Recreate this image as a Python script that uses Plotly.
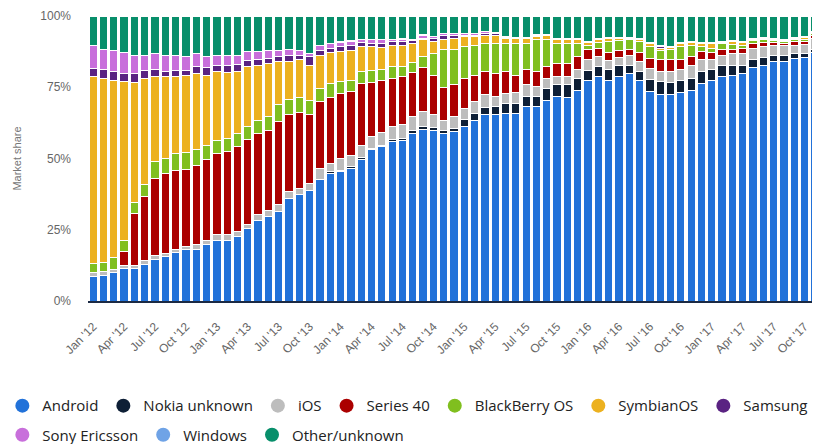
import plotly.graph_objects as go
import pandas as pd

months = [d.strftime("%b '%y") for d in pd.date_range("2012-01-01", periods=71, freq="MS")]
tick_labels = months[::3]
y_ticks = [0, 25, 50, 75, 100]
y_tick_text = ["0%", "25%", "50%", "75%", "100%"]

android = [8.5, 9.1, 10.1, 11.5, 11.5, 12.9, 14.6, 15.6, 17.1, 17.9, 18.2, 19.9,
           21.4, 21.4, 22.6, 25.5, 28.1, 29.6, 31.3, 36.0, 37.2, 38.9, 42.7, 44.8,
           45.4, 46.5, 49.7, 53.0, 54.2, 55.9, 56.3, 58.8, 60.2, 59.8, 58.6, 59.4,
           61.4, 63.5, 65.6, 65.3, 65.8, 65.8, 68.2, 68.4, 70.5, 71.9, 71.5, 74.0,
           77.2, 78.7, 77.5, 78.9, 79.9, 77.2, 73.5, 72.3, 72.3, 73.1, 74.0, 76.4,
           77.3, 78.7, 79.3, 79.9, 82.0, 82.8, 84.0, 84.0, 85.1, 85.5, 87.1]
nokia_unknown = [0, 0, 0, 0, 0, 0, 0, 0, 0, 0, 0, 0,
                 0, 0, 0, 0, 0, 0, 0, 0, 0, 0, 0, 0.6,
                 0.4, 0.6, 0.7, 0.6, 0.5, 0.8, 0.8, 1.2, 1.2, 1.1, 1.2, 1.2,
                 2.3, 2.3, 2.3, 2.9, 3.6, 3.6, 3.5, 3.5, 4.1, 3.9, 4.3, 4.1,
                 3.6, 3.5, 3.6, 3.6, 2.9, 3.3, 4.3, 4.7, 4.3, 4.2, 4.1, 4.1,
                 3.8, 4.1, 3.5, 2.9, 2.8, 2.7, 2.0, 2.0, 1.6, 1.4, 1.2]
ios = [1.4, 1.2, 1.1, 0.9, 1.1, 1.3, 1.2, 1.1, 1.1, 1.4, 1.7, 1.5,
       2.1, 2.1, 1.7, 1.2, 2.1, 2.3, 2.4, 2.4, 2.3, 2.4, 3.8, 2.9,
       4.3, 4.1, 4.3, 4.1, 4.4, 4.5, 4.7, 4.9, 5.0, 4.4, 3.7, 4.1,
       3.9, 4.1, 4.4, 3.7, 3.5, 3.7, 4.1, 3.5, 3.5, 3.1, 2.9, 3.2,
       3.8, 3.5, 3.2, 3.0, 3.2, 3.5, 3.8, 3.5, 3.9, 4.0, 4.7, 4.1,
       3.5, 3.5, 4.1, 4.1, 3.9, 3.7, 3.5, 3.5, 3.1, 3.2, 3.9]
series40 = [0, 0, 0, 4.9, 18.2, 22.4, 27.2, 28.1, 27.5, 26.9, 27.8, 28.1,
            28.3, 28.9, 29.9, 29.8, 28.4, 27.9, 29.2, 27.2, 26.6, 24.3, 23.4, 23.2,
            22.8, 22.3, 21.7, 18.9, 18.2, 16.9, 16.9, 15.2, 15.6, 14.0, 11.5, 11.1,
            10.5, 9.4, 8.1, 8.0, 7.6, 6.2, 5.3, 5.1, 4.1, 4.5, 4.7, 4.4,
            3.5, 3.0, 2.8, 2.3, 2.3, 3.1, 3.5, 4.1, 4.1, 3.5, 2.9, 2.9,
            2.5, 2.0, 1.4, 1.8, 1.7, 1.4, 1.1, 0.9, 1.2, 1.1, 0.8]
blackberry = [3.3, 3.2, 4.1, 3.9, 3.7, 4.3, 5.9, 5.3, 5.9, 5.8, 5.5, 4.9,
              4.5, 4.7, 4.4, 4.7, 4.7, 4.9, 5.9, 5.2, 5.4, 4.9, 4.7, 4.9,
              4.1, 4.0, 4.1, 4.2, 3.8, 4.1, 3.5, 3.5, 3.7, 7.6, 13.1, 12.5,
              11.1, 10.5, 10.0, 10.5, 9.9, 10.9, 9.3, 11.1, 9.6, 7.0, 7.0, 4.7,
              1.7, 1.9, 3.9, 3.5, 3.3, 3.9, 4.1, 3.2, 3.7, 4.4, 4.1, 1.7,
              1.5, 1.9, 1.8, 1.1, 0.9, 1.0, 0.7, 0.6, 0.6, 0.6, 0.7]
symbian = [65.5, 64.6, 62.0, 55.8, 42.1, 37.2, 30.0, 28.6, 27.3, 27.3, 26.7, 24.9,
           24.2, 23.0, 22.1, 21.0, 19.5, 18.7, 15.2, 13.2, 13.1, 12.3, 11.4, 10.7,
           10.5, 10.3, 8.7, 8.4, 7.9, 7.6, 7.6, 6.8, 5.9, 4.1, 3.7, 3.9,
           3.5, 2.9, 2.6, 2.9, 1.8, 2.0, 1.8, 1.1, 1.2, 1.4, 1.2, 1.4,
           1.0, 1.2, 1.2, 0.9, 0.6, 0.8, 1.2, 0.9, 0.7, 1.2, 1.0, 1.2,
           1.8, 0.6, 0.9, 0.8, 0.5, 0.3, 0.5, 0.3, 0.6, 0.7, 0.5]
samsung = [2.9, 3.0, 3.2, 2.9, 3.3, 2.7, 2.4, 1.8, 1.9, 1.5, 2.3, 2.7,
           2.3, 2.7, 2.3, 2.1, 1.8, 1.7, 1.7, 2.1, 1.5, 2.9, 1.8, 1.6,
           1.7, 2.0, 1.4, 1.2, 1.4, 1.2, 1.4, 0.9, 0.6, 1.2, 1.2, 0.8,
           0.6, 0.6, 0.7, 0.4, 0.2, 0.1, 0.1, 0.6, 0.1, 0.1, 0.1, 0.1,
           0.1, 0.1, 0.1, 0.1, 0.1, 0.1, 0.1, 0.5, 0.1, 0.1, 0.1, 0.1,
           0.1, 0.1, 0.1, 0.1, 0.1, 0.1, 0.1, 0.1, 0.1, 0.1, 0.1]
sony_ericsson = [8.2, 7.3, 7.3, 7.2, 6.1, 5.5, 5.6, 5.8, 5.2, 4.9, 4.7, 3.7,
                 3.2, 3.5, 3.3, 3.2, 2.9, 2.7, 2.1, 2.0, 1.7, 1.2, 2.0, 1.7,
                 1.6, 1.4, 1.2, 1.4, 1.2, 0.8, 0.7, 0.5, 1.1, 0.5, 0.7, 0.7,
                 0.6, 0.6, 0.8, 0.5, 0.2, 0.1, 0.1, 0.2, 0.1, 0.1, 0.1, 0.1,
                 0.1, 0.1, 0.1, 0.1, 0.1, 0.1, 0.1, 0.0, 0.1, 0.1, 0.1, 0.1,
                 0.1, 0.1, 0.1, 0.1, 0.1, 0.1, 0.1, 0.1, 0.1, 0.1, 0.1]
windows = [0, 0, 0, 0, 0, 0, 0, 0, 0, 0, 0, 0,
           0, 0, 0, 0, 0, 0, 0, 0, 0, 0, 0, 0,
           0.1, 0.1, 0.1, 0.1, 0.1, 0.1, 0.1, 0.1, 0.1, 0.1, 0.1, 0.1,
           0.1, 0.1, 0.1, 0.1, 0.1, 0.1, 0.1, 0.1, 0.2, 0.2, 0.2, 0.2,
           0.2, 0.2, 0.2, 0.2, 0.2, 0.2, 0.2, 0.4, 0.2, 0.2, 0.2, 0.2,
           0.2, 0.2, 0.2, 0.2, 0.2, 0.2, 0.2, 0.2, 0.2, 0.2, 0.2]
other = [10.2, 11.6, 12.2, 12.9, 14.0, 13.7, 13.1, 13.7, 14.0, 14.3, 13.1, 14.3,
         14.0, 13.7, 13.7, 12.5, 12.5, 12.2, 12.2, 11.9, 12.2, 13.1, 10.2, 9.6,
         9.1, 8.7, 8.1, 8.1, 8.3, 8.1, 8.0, 8.1, 6.6, 7.2, 6.2, 6.2,
         6.0, 6.0, 5.4, 5.7, 7.3, 7.5, 7.5, 6.4, 6.6, 7.8, 8.0, 7.8,
         8.8, 7.8, 7.4, 7.4, 7.4, 7.8, 9.2, 10.4, 10.6, 9.2, 8.8, 9.2,
         9.2, 8.8, 8.6, 9.0, 7.8, 7.7, 7.8, 8.3, 7.4, 7.1, 5.4]

series = [
    ("Android", android, "#2272d9"),
    ("Nokia unknown", nokia_unknown, "#0e1f36"),
    ("iOS", ios, "#bdbdbd"),
    ("Series 40", series40, "#ab0000"),
    ("BlackBerry OS", blackberry, "#80bf1f"),
    ("SymbianOS", symbian, "#ecb11f"),
    ("Samsung", samsung, "#5a2382"),
    ("Sony Ericsson", sony_ericsson, "#c86fdb"),
    ("Windows", windows, "#6fa3e6"),
    ("Other/unknown", other, "#088f6b"),
]

fig = go.Figure()
for name, vals, color in series:
    fig.add_trace(go.Bar(
        x=months, y=vals, name=name, showlegend=False,
        marker=dict(color=color, line=dict(color="white", width=1)),
    ))
for i, (name, vals, color) in enumerate(series):
    fig.add_trace(go.Scatter(
        x=[None], y=[None], mode="markers", name=name,
        legend="legend" if i < 7 else "legend2",
        marker=dict(symbol="circle", size=14, color=color),
    ))

legend_common = dict(
    orientation="h", xanchor="left", yanchor="middle", x=-0.117,
    font=dict(size=15, color="#222", family="Open Sans"),
    itemwidth=30, traceorder="normal", bgcolor="rgba(0,0,0,0)",
)

# page body adds an 8px offset, so the figure is 8px smaller on each axis
fig.update_layout(
    width=812, height=436,
    barmode="stack", bargap=0.2,
    paper_bgcolor="white", plot_bgcolor="white",
    margin=dict(l=80, r=0, t=8, b=143, autoexpand=False),
    font=dict(family="Liberation Sans Narrow, Liberation Sans, Arial", color="#666"),
    legend=dict(legend_common, y=-0.368),
    legend2=dict(legend_common, y=-0.470),
)
fig.update_xaxes(
    type="category", tickmode="array", tickvals=tick_labels, ticktext=tick_labels,
    tickangle=-45, tickfont=dict(size=12, color="#666"),
    showline=True, linecolor="#1b2a44", linewidth=2,
    ticks="outside", ticklen=12, tickcolor="rgba(0,0,0,0)", showgrid=False,
    range=[-0.5, 70.5],
)
fig.update_yaxes(
    range=[0, 100], tickmode="array", tickvals=y_ticks, ticktext=y_tick_text,
    tickfont=dict(size=12, color="#666"), showgrid=False, zeroline=False,
    title=dict(text="Market share", font=dict(size=11, color="#777"), standoff=16),
    ticks="", ticklabelstandoff=16,
)
fig.write_html("out.html")
